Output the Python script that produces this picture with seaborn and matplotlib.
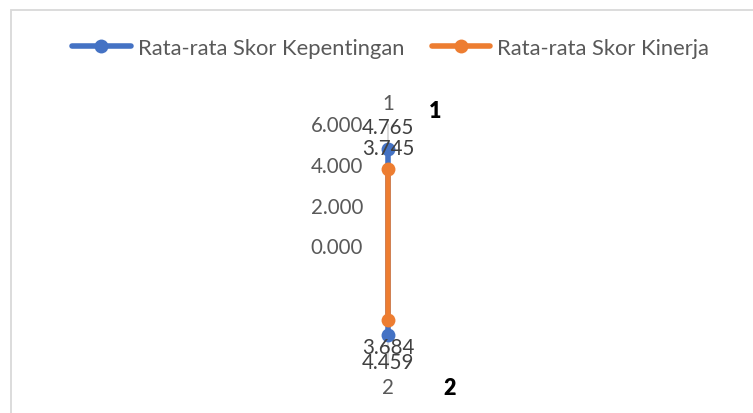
import numpy as np
import pandas as pd
import matplotlib
matplotlib.use("Agg")
import matplotlib.pyplot as plt
from matplotlib.patches import Rectangle
import seaborn as sns

# ---- data ----
categories = ["1", "2"]
series_names = ["Rata-rata Skor Kepentingan", "Rata-rata Skor Kinerja"]
kepentingan = [4.765, 4.459]
kinerja = [3.745, 3.684]
r_ticks = [0, 2, 4, 6]
r_tick_labels = ["0.000", "2.000", "4.000", "6.000"]
extra_labels = ["1", "2"]

sns.set_theme(style="white")
plt.rcParams["font.family"] = ["Lato", "DejaVu Sans"]

W, H = 753, 414
fig = plt.figure(figsize=(W / 100, H / 100), dpi=100)
fig.patch.set_facecolor("white")

# chart border (light gray)
fig.patches.append(Rectangle((11 / W, -0.1), 1.2, 1.1 - 11 / H, transform=fig.transFigure,
                             fill=False, edgecolor="#D9D9D9", linewidth=1.3))

# polar axes positioned with centre at (388, 246) px, radius 121.5 px
cx, cy, R = 388, 246, 121.5
ax = fig.add_axes([(cx - R) / W, (H - cy - R) / H, 2 * R / W, 2 * R / H], projection="polar")
ax.set_theta_zero_location("N")
ax.set_theta_direction(-1)

angles = np.linspace(0, 2 * np.pi, len(categories), endpoint=False)
df = pd.DataFrame({
    "theta": np.concatenate([angles, angles]),
    "r": kepentingan + kinerja,
    "series": [series_names[0]] * len(categories) + [series_names[1]] * len(categories),
})
palette = {series_names[0]: "#4472C4", series_names[1]: "#ED7D31"}
sns.lineplot(data=df, x="theta", y="r", hue="series", palette=palette, marker="o",
             markersize=10, markeredgewidth=0, linewidth=4, sort=False, ax=ax, legend=False)

ax.set_ylim(0, 6)
ax.set_xticks(angles)
ax.set_xticklabels([])
ax.set_yticks(r_ticks)
ax.set_yticklabels([])
ax.yaxis.grid(False)
ax.xaxis.grid(True, color="#D9D9D9", linewidth=1.3)
ax.spines["polar"].set_visible(False)
ax.set_facecolor("none")
ax.set_xlabel("")
ax.set_ylabel("")
for ln in ax.get_lines():
    ln.set_zorder(3)

FS = 14.8
GRAY = "#595959"
# radial labels
for rv, lab in zip(r_ticks, r_tick_labels):
    ax.annotate(lab, (0, rv), xytext=(-25, -2), textcoords="offset pixels",
                ha="right", va="center", fontsize=FS, color=GRAY, annotation_clip=False)

# category labels
cat_off = {0: 21, 1: -21}
for i, (a, c) in enumerate(zip(angles, categories)):
    ax.annotate(c, (a, 6), xytext=(0, cat_off[i]), textcoords="offset pixels",
                ha="center", va="center", fontsize=FS, color=GRAY, annotation_clip=False)

# data labels
lab_off = {0: 21.5, 1: -27}
for vals in (kepentingan, kinerja):
    for i, (a, v) in enumerate(zip(angles, vals)):
        ax.annotate(f"{v:.3f}", (a, v), xytext=(0, lab_off[i]), textcoords="offset pixels",
                    ha="center", va="center", fontsize=FS, color="#404040",
                    annotation_clip=False, zorder=5)

# bold extra labels
fig.text(435 / W, 1 - 112 / H, extra_labels[0], ha="center", va="center",
         fontsize=15.5, fontweight="heavy", color="black")
fig.text(450 / W, 1 - 389 / H, extra_labels[1], ha="center", va="center",
         fontsize=15.5, fontweight="heavy", color="black")

handles = ax.get_lines()[:2]
fig.legend(handles, series_names, loc="center", bbox_to_anchor=(390.5 / W, 1 - 49 / H),
           ncol=2, frameon=False, fontsize=15.8, labelcolor=GRAY, handlelength=2.65,
           handletextpad=0.32, columnspacing=1.25)

fig.savefig("out.png", dpi=100, facecolor="white")
